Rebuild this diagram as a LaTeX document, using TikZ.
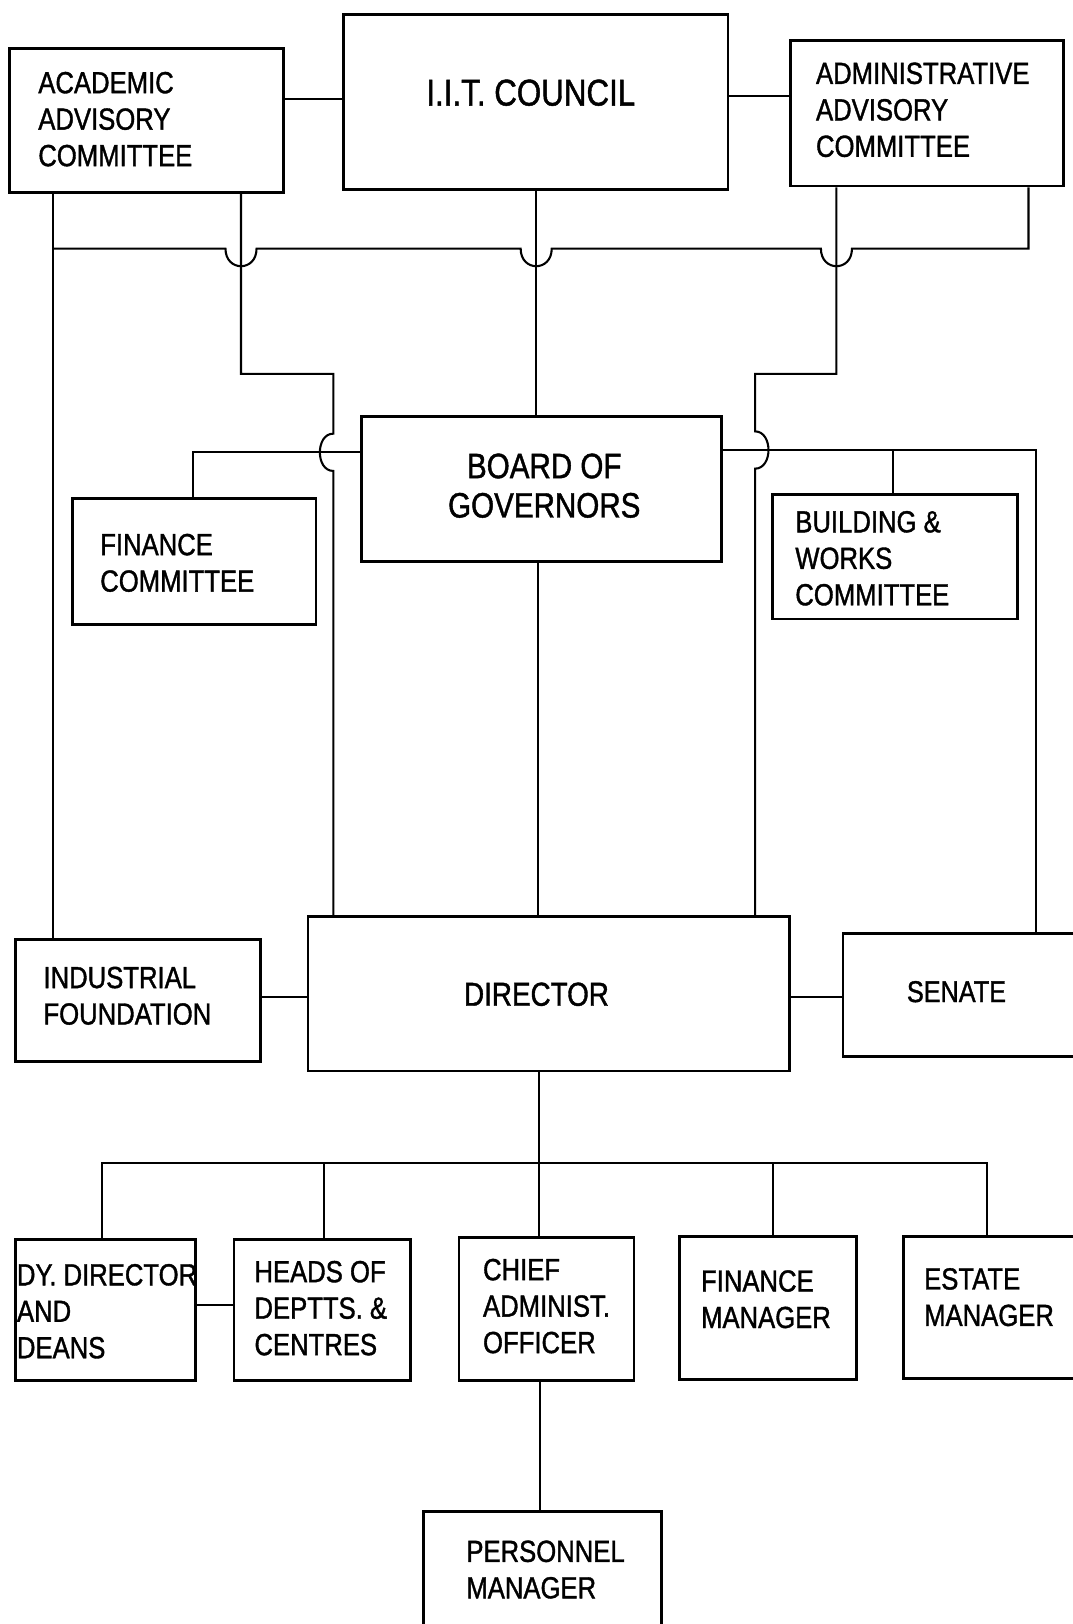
\documentclass[tikz,border=0pt]{standalone}
\usepackage{fontspec}
\setmainfont{Liberation Sans}[FakeStretch=0.84,FakeBold=1.2]
\usetikzlibrary{fit,calc}
\begin{document}
\begin{tikzpicture}[x=0.5pt,y=-0.5pt,
  orgbox/.style={draw, line width=1.3pt, inner sep=0pt},
  conn/.style={line width=1pt},
  lbl/.style={inner sep=0pt, align=left, anchor=north west, font=\fontsize{14.75}{17.6}\selectfont},
  clbl/.style={inner sep=0pt, align=center}]
\useasboundingbox (0,0) rectangle (1036,1568);
\clip (0,0) rectangle (1036,1568);

% ---------- boxes ----------
\node[orgbox, fit={(9.3,46.5) (273.6,186)}] (aac) {};
\node[orgbox, fit={(331.8,14) (703,183)}] (council) {};
\node[orgbox, fit={(763,39.3) (1026.6,179.6)}] (adac) {};
\node[orgbox, fit={(349,402) (696.6,542)}] (board) {};
\node[orgbox, fit={(69.8,481.2) (305.2,602.8)}] (fc) {};
\node[orgbox, fit={(745.7,477.3) (982.1,597.7)}] (bwc) {};
\node[orgbox, fit={(15,907) (251.7,1025)}] (ifd) {};
\node[orgbox, fit={(297.5,885) (762.3,1034)}] (director) {};
\node[orgbox, fit={(813.8,901) (1060,1020.3)}] (senate) {};
\node[orgbox, fit={(15,1196.6) (188.8,1333)}] (dydir) {};
\node[orgbox, fit={(226,1196.6) (396.6,1333)}] (heads) {};
\node[orgbox, fit={(443.2,1195) (612,1333)}] (cao) {};
\node[orgbox, fit={(655.9,1194) (827.1,1331.8)}] (fm) {};
\node[orgbox, fit={(872,1194) (1060,1331)}] (em) {};
\node[orgbox, fit={(408.7,1459.5) (638.8,1600)}] (pm) {};

% ---------- texts ----------
\node[lbl] (aacT) at (36.6,69) {ACADEMIC\\ADVISORY\\COMMITTEE};
\node[clbl, font=\fontsize{18}{22}\selectfont] (councilT) at (512.5,89.5) {I.I.T. COUNCIL};
\node[lbl] (adacT) at (787.5,60) {ADMINISTRATIVE\\ADVISORY\\COMMITTEE};
\node[clbl, anchor=north, font=\fontsize{17}{19}\selectfont] (boardT) at (525.5,437.5) {BOARD OF\\GOVERNORS};
\node[lbl] (fcT) at (96.4,515) {FINANCE\\COMMITTEE};
\node[lbl] (bwcT) at (767.5,493) {BUILDING \&\\WORKS\\COMMITTEE};
\node[lbl] (ifdT) at (41.6,933) {INDUSTRIAL\\FOUNDATION};
\node[clbl, font=\fontsize{16}{19}\selectfont] (directorT) at (518,960) {DIRECTOR};
\node[clbl, font=\fontsize{14.5}{17}\selectfont] (senateT) at (923.5,957.5) {SENATE};
\node[lbl] (dydirT) at (16,1220) {DY. DIRECTOR\\AND\\DEANS};
\node[lbl] (headsT) at (245.3,1217) {HEADS OF\\DEPTTS. \&\\CENTRES};
\node[lbl] (caoT) at (466,1215) {CHIEF\\ADMINIST.\\OFFICER};
\node[lbl] (fmT) at (676.5,1226) {FINANCE\\MANAGER};
\node[lbl] (emT) at (891.9,1224) {ESTATE\\MANAGER};
\node[lbl] (pmT) at (449.9,1487) {PERSONNEL\\MANAGER};

% ---------- junction coordinates ----------
\coordinate (xL) at (51.5,0);
\coordinate (jogL1) at (232.7,361);
\coordinate (jogL2) at (321.8,361);
\coordinate (jogR1) at (807.6,361);
\coordinate (jogR2) at (729,361);
\coordinate (xC) at (517.7,0);
\coordinate (xD) at (519.5,0);
\coordinate (xR) at (993,240);
\coordinate (xF) at (186.2,436.7);
\coordinate (xS) at (1000,434.5);
\coordinate (xB) at (862,434.5);
\coordinate (yT1) at (0,95.6);
\coordinate (yT2) at (0,92.7);
\coordinate (yM) at (0,962.3);
\coordinate (xE) at (520.6,0);
\coordinate (bb1) at (98.1,1123.2);
\coordinate (bb2) at (952.8,1123.2);
\coordinate (bh) at (312.5,1123.2);
\coordinate (bf) at (746.3,1123.2);
\coordinate (yDH) at (0,1260);
\coordinate (xP) at (521,0);

% ---------- connectors ----------
\draw[conn] (aac.east |- yT1) -- (council.west |- yT1);
\draw[conn] (council.east |- yT2) -- (adac.west |- yT2);

\draw[conn] (aac.south -| xL) -- (ifd.north -| xL);

\draw[conn] (aac.south -| jogL1) -- (jogL1) -- (jogL2) -- (321.8,418.7)
  .. controls (304.5,418.7) and (304.5,454.7) .. (321.8,454.7)
  -- (director.north -| jogL2);

\draw[conn] (adac.south -| jogR1) -- (jogR1) -- (jogR2) -- (729,416.5)
  .. controls (746.3,416.5) and (746.3,452.5) .. (729,452.5)
  -- (director.north -| jogR2);

\draw[conn] (council.south -| xC) -- (board.north -| xC);

\draw[conn] (adac.south -| xR) -- (xR) -- (822.6,240)
  .. controls (822.6,262.7) and (792.6,262.7) .. (792.6,240)
  -- (532.7,240)
  .. controls (532.7,262.7) and (502.7,262.7) .. (502.7,240)
  -- (247.7,240)
  .. controls (247.7,262.7) and (217.7,262.7) .. (217.7,240)
  -- (xL |- xR);

\draw[conn] (board.west |- xF) -- (xF) -- (fc.north -| xF);
\draw[conn] (board.east |- xS) -- (xS) -- (senate.north -| xS);
\draw[conn] (xB) -- (bwc.north -| xB);
\draw[conn] (board.south -| xD) -- (director.north -| xD);

\draw[conn] (ifd.east |- yM) -- (director.west |- yM);
\draw[conn] (director.east |- yM) -- (senate.west |- yM);

\draw[conn] (director.south -| xE) -- (cao.north -| xE);
\draw[conn] (dydir.north -| bb1) -- (bb1) -- (bb2) -- (em.north -| bb2);
\draw[conn] (bh) -- (heads.north -| bh);
\draw[conn] (bf) -- (fm.north -| bf);
\draw[conn] (dydir.east |- yDH) -- (heads.west |- yDH);
\draw[conn] (cao.south -| xP) -- (pm.north -| xP);
\end{tikzpicture}
\end{document}
